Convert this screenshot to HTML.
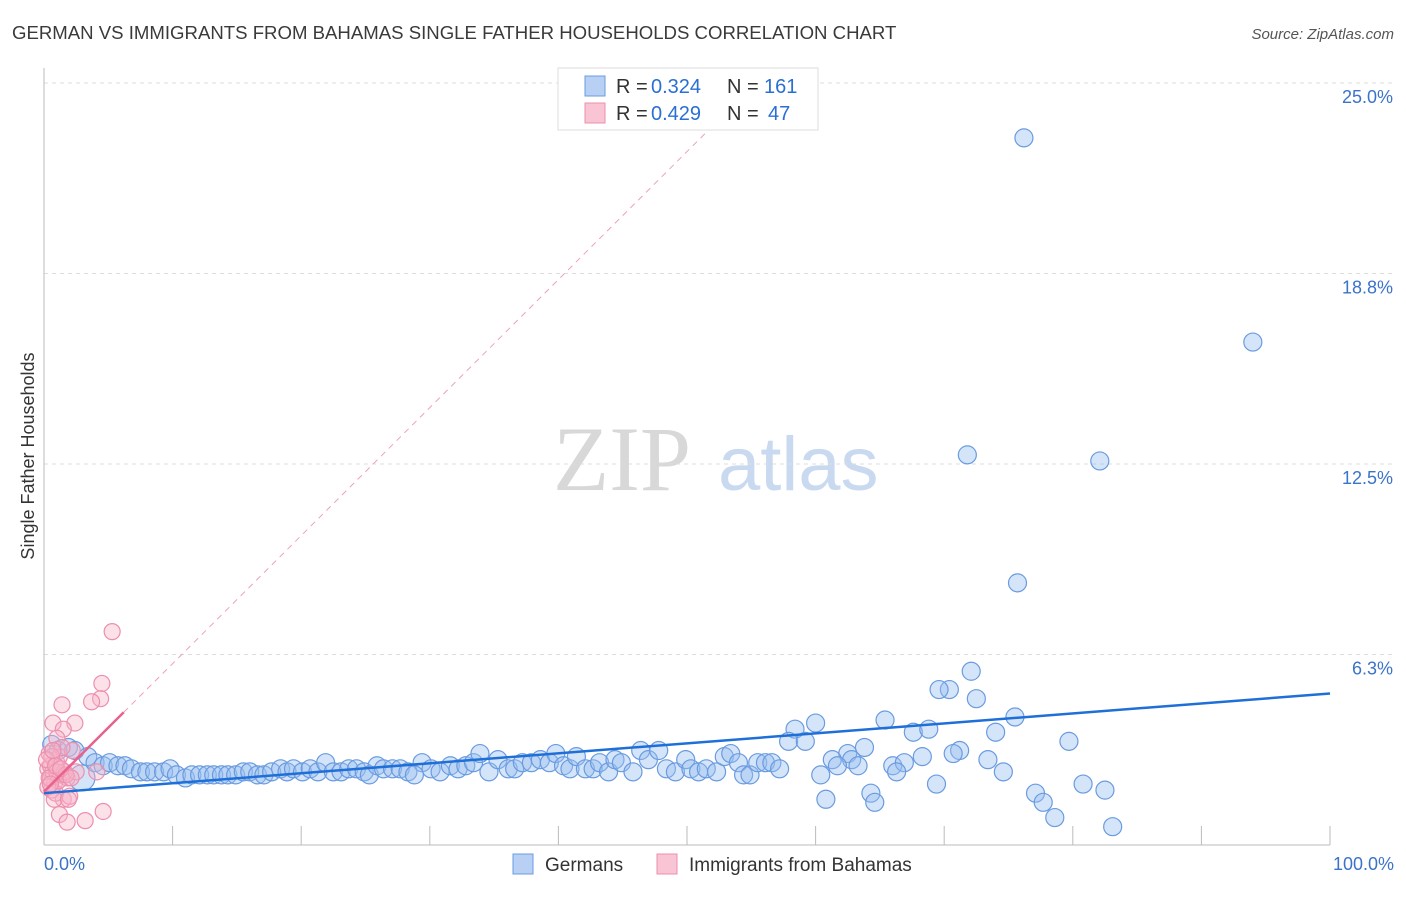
<!DOCTYPE html>
<html><head><meta charset="utf-8"><style>
body{margin:0;background:#fff;font-family:"Liberation Sans",sans-serif;}
</style></head><body>
<svg width="1406" height="892" xmlns="http://www.w3.org/2000/svg" font-family="Liberation Sans, sans-serif">
<text x="12" y="39" font-size="18.6" fill="#3a3a3a">GERMAN VS IMMIGRANTS FROM BAHAMAS SINGLE FATHER HOUSEHOLDS CORRELATION CHART</text>
<text x="1394" y="39" font-size="15" fill="#555" font-style="italic" text-anchor="end">Source: ZipAtlas.com</text>
<g>
<text x="553" y="490" font-size="92" fill="#d8d8d8" font-family="Liberation Serif, serif">ZIP</text>
<text x="718" y="490" font-size="76" fill="#c9daf0">atlas</text>
</g>
<g id="grid"></g>
<g id="axes"></g>
<g id="marks"></g>
<text transform="translate(34,456) rotate(-90)" font-size="18" fill="#333" text-anchor="middle">Single Father Households</text>
<g>
<rect x="558" y="68" width="260" height="62" fill="#fff" stroke="#ddd"/>
<rect x="585" y="76" width="20" height="20" fill="#b8d0f4" stroke="#6a9be0"/>
<rect x="585" y="103" width="20" height="20" fill="#f9c4d4" stroke="#ec8fae"/>
<text x="616" y="93" font-size="20" fill="#333">R =</text>
<text x="651" y="93" font-size="20" fill="#2a6fd4">0.324</text>
<text x="727" y="93" font-size="20" fill="#333">N =</text>
<text x="764" y="93" font-size="20" fill="#2a6fd4">161</text>
<text x="616" y="120" font-size="20" fill="#333">R =</text>
<text x="651" y="120" font-size="20" fill="#2a6fd4">0.429</text>
<text x="727" y="120" font-size="20" fill="#333">N =</text>
<text x="768" y="120" font-size="20" fill="#2a6fd4">47</text>
</g>
<g>
<rect x="513" y="854" width="20" height="20" fill="#b8d0f4" stroke="#6a9be0"/>
<text x="545" y="871" font-size="19" fill="#333">Germans</text>
<rect x="657" y="854" width="20" height="20" fill="#f9c4d4" stroke="#ec8fae"/>
<text x="689" y="871" font-size="19" fill="#333">Immigrants from Bahamas</text>
</g>
</svg>
<script>
const yTicks=[6.25,12.5,18.75,25];
const yTickLabels=["6.3%","12.5%","18.8%","25.0%"];
const xTicks=[10,20,30,40,50,60,70,80,90,100];
const germanX=[76.2,94.0,71.8,82.1,75.7,72.1,70.4,69.6,72.5,75.5,65.4,60.0,58.4,67.6,68.8,74.0,79.7,57.9,59.2,63.8,71.2,70.7,68.3,62.5,62.8,61.3,73.4,66.0,63.3,61.7,66.9,66.3,60.4,74.6,69.4,80.8,64.3,77.1,82.5,60.8,64.6,77.7,78.6,83.1,
29.4,30.1,30.8,31.6,32.2,32.8,33.4,33.9,34.6,35.3,36.1,36.6,37.2,37.9,38.6,39.3,39.8,40.4,40.9,41.4,42.1,42.7,43.2,43.9,44.4,44.9,45.8,46.4,47.0,47.8,48.4,49.1,49.9,50.3,50.9,51.5,52.3,52.9,53.4,54.0,54.4,54.9,55.5,56.1,56.6,57.2,
0.6,1.1,1.9,2.4,2.95,3.4,3.97,4.6,5.1,5.75,6.3,6.8,7.5,8.0,8.6,9.3,9.8,10.3,11.0,11.5,12.1,12.7,13.2,13.8,14.3,14.9,15.5,16.0,16.6,17.1,17.7,18.4,18.9,19.4,20.1,20.7,21.3,21.9,22.5,23.1,23.7,24.3,24.9,25.3,25.9,26.4,27.1,27.7,28.3,28.8];
const germanY=[23.2,16.5,12.8,12.6,8.6,5.7,5.1,5.1,4.8,4.2,4.1,4.0,3.8,3.7,3.8,3.7,3.4,3.4,3.4,3.2,3.1,3.0,2.9,3.0,2.8,2.8,2.8,2.6,2.6,2.6,2.7,2.4,2.3,2.4,2.0,2.0,1.7,1.7,1.8,1.5,1.4,1.4,0.9,0.6,
2.7,2.5,2.4,2.6,2.5,2.6,2.7,3.0,2.4,2.8,2.5,2.5,2.7,2.7,2.8,2.7,3.0,2.6,2.5,2.9,2.5,2.5,2.7,2.4,2.8,2.7,2.4,3.1,2.8,3.1,2.5,2.4,2.8,2.5,2.4,2.5,2.4,2.9,3.0,2.7,2.3,2.3,2.7,2.7,2.7,2.5,
3.3,3.1,3.2,3.1,2.2,2.9,2.7,2.6,2.7,2.6,2.6,2.5,2.4,2.4,2.4,2.4,2.5,2.3,2.2,2.3,2.3,2.3,2.3,2.3,2.3,2.3,2.4,2.4,2.3,2.3,2.4,2.5,2.4,2.5,2.4,2.5,2.4,2.7,2.4,2.4,2.5,2.5,2.4,2.3,2.6,2.5,2.5,2.5,2.4,2.3];
const bahamasX=[5.3,4.5,4.4,3.7,1.4,0.7,2.4,1.5,1.0,4.1,1.5,4.6,3.2,1.2,1.8,0.3,0.5,0.8,1.0,1.3,0.6,1.5,0.4,1.2,0.7,1.8,0.9,2.0,0.5,1.1,1.6,0.3,2.2,1.4,0.8,1.9,0.6,1.0,2.5,0.4,0.2,0.9,1.7,0.5,1.3,0.7,2.1];
const bahamasY=[7.0,5.3,4.8,4.7,4.6,4.0,4.0,3.8,3.5,2.4,1.5,1.1,0.8,1.0,0.75,2.5,2.2,2.0,2.7,2.3,1.8,2.3,3.0,2.9,2.4,2.2,1.7,1.6,2.6,2.1,2.4,1.9,3.1,3.2,1.5,1.5,2.9,2.4,2.4,2.2,2.8,2.6,2.3,2.0,2.5,3.1,2.2];
const germanTrend=[1.7,0.0327];
const bahamasTrend=[1.75,0.42];
const X0=44,X1=1330,Y0=845,Y25=83;
const sx=v=>X0+(X1-X0)*v/100;
const sy=v=>Y0-(Y0-Y25)*v/25;
const NS="http://www.w3.org/2000/svg";
function mk(t,a,p){const e=document.createElementNS(NS,t);for(const k in a)e.setAttribute(k,a[k]);p.appendChild(e);return e;}
const grid=document.getElementById('grid'),axes=document.getElementById('axes'),marks=document.getElementById('marks');
yTicks.forEach((v,i)=>{
 const l=mk('line',{x1:X0,x2:1394,y1:sy(v),y2:sy(v),stroke:'#ddd','stroke-dasharray':'4,4'},grid);
 
 
 const t=mk('text',{x:1393,y:sy(v)+20,'font-size':18,fill:'#3b73c8','text-anchor':'end'},axes);
 t.textContent=yTickLabels[i];
 
 
});
const ya=mk('line',{x1:X0,x2:X0,y1:68,y2:Y0,stroke:'#bbb'},axes);


const xa=mk('line',{x1:X0,x2:X1,y1:Y0,y2:Y0,stroke:'#bbb'},axes);


xTicks.forEach(v=>{
 const l=mk('line',{x1:sx(v),x2:sx(v),y1:826,y2:Y0,stroke:'#bbb'},axes);
 
 
});
const xl0=mk('text',{x:44,y:870,'font-size':18,fill:'#3b73c8'},axes);xl0.textContent='0.0%';


const xl1=mk('text',{x:1394,y:870,'font-size':18,fill:'#3b73c8','text-anchor':'end'},axes);xl1.textContent='100.0%';


germanX.forEach((x,i)=>{
 const c=mk('circle',{cx:sx(x),cy:sy(germanY[i]),r:(x>2.5&&x<3.5&&germanY[i]<2.5)?13:9,fill:'rgba(150,190,240,0.4)',stroke:'#6a9be0','stroke-width':1.2},marks);
 
 
});
bahamasX.forEach((x,i)=>{
 const c=mk('circle',{cx:sx(x),cy:sy(bahamasY[i]),r:8,fill:'rgba(248,180,200,0.4)',stroke:'#ec8fae','stroke-width':1.2},marks);
 
 
});
const gt=mk('line',{x1:sx(0),y1:sy(germanTrend[0]),x2:sx(100),y2:sy(germanTrend[0]+germanTrend[1]*100),stroke:'#1f6fd8','stroke-width':2.5},marks);


const bd=mk('line',{x1:sx(6.2),y1:sy(bahamasTrend[0]+bahamasTrend[1]*6.2),x2:sx(54),y2:sy(bahamasTrend[0]+bahamasTrend[1]*54),stroke:'#f0a0b8','stroke-width':1,'stroke-dasharray':'6,5'},marks);


const bt=mk('line',{x1:sx(0),y1:sy(bahamasTrend[0]),x2:sx(6.2),y2:sy(bahamasTrend[0]+bahamasTrend[1]*6.2),stroke:'#e8628e','stroke-width':2.5},marks);


</script>
</body></html>
